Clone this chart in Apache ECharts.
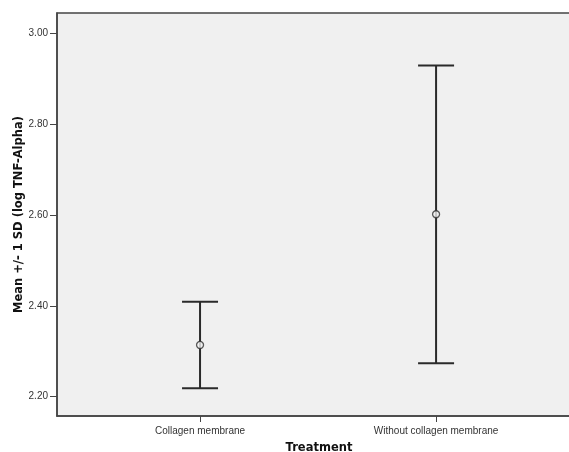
<!DOCTYPE html>
<html>
<head>
<meta charset="utf-8">
<script src="https://cdn.jsdelivr.net/npm/echarts@6/dist/echarts.min.js"></script>
<style>
	html, body { margin: 0; padding: 0; background: #fff; }
	#chart { width: 569px; height: 452px; }
</style>
</head>
<body>
<div id="chart"></div>
<script>
const categories = ["Collagen membrane", "Without collagen membrane"];
const means = [2.314, 2.602];
const lower = [2.2185, 2.2735];
const upper = [2.409, 2.930];
const yTicks = [2.2, 2.4, 2.6, 2.8, 3.0];

const chart = echarts.init(document.getElementById("chart"));

// category i sits at x = i + 1 on a value axis
const barData = categories.map((c, i) => [i + 1, lower[i], upper[i]]);
const meanData = categories.map((c, i) => [i + 1, means[i]]);

function renderBar (params, api) {
	const x = api.value(0);
	const lo = api.coord([x, api.value(1)]);
	const hi = api.coord([x, api.value(2)]);
	const half = 18;
	const style = { stroke: "#2a2a2a", lineWidth: 2 };
	return {
		type: "group",
		children: [
			{ type: "line", shape: { x1: lo[0], y1: lo[1], x2: hi[0], y2: hi[1] }, style: style },
			{ type: "line", shape: { x1: hi[0] - half, y1: hi[1], x2: hi[0] + half, y2: hi[1] }, style: style },
			{ type: "line", shape: { x1: lo[0] - half, y1: lo[1], x2: lo[0] + half, y2: lo[1] }, style: style }
		]
	};
}

option = {
	animation: false,
	grid: {
		left: 57,
		right: -12,
		top: 13,
		bottom: 36,
		outerBoundsMode: "none",
		show: true,
		backgroundColor: "#f0f0f0",
		borderColor: "#444",
		borderWidth: 1.5
	},
	xAxis: {
		type: "value",
		min: 0.394,
		max: 2.614,
		name: "Treatment",
		nameLocation: "middle",
		nameGap: 26,
		nameTextStyle: { fontFamily: "DejaVu Sans", fontWeight: "bold", fontSize: 11.5, color: "#111" },
		axisLine: { lineStyle: { color: "#444", width: 1.5 } },
		axisTick: { customValues: [1, 2], length: 6, lineStyle: { color: "#444" } },
		axisLabel: {
			customValues: [1, 2],
			formatter: v => categories[Math.round(v) - 1],
			fontFamily: "Liberation Sans",
			fontSize: 10,
			color: "#333",
			margin: 10
		},
		splitLine: { show: false }
	},
	yAxis: {
		type: "value",
		min: 2.1575,
		max: 3.0454,
		name: "Mean +/- 1 SD (log TNF-Alpha)",
		nameLocation: "middle",
		nameGap: 32,
		nameMoveOverlap: false,
		nameTextStyle: { fontFamily: "DejaVu Sans", fontWeight: "bold", fontSize: 11.5, color: "#111" },
		axisLine: { show: true, lineStyle: { color: "#444", width: 1.5 } },
		axisTick: { show: true, customValues: yTicks, length: 7, lineStyle: { color: "#444" } },
		axisLabel: {
			customValues: yTicks,
			formatter: v => v.toFixed(2),
			fontFamily: "Liberation Sans",
			fontSize: 10,
			color: "#333",
			margin: 9
		},
		splitLine: { show: false }
	},
	series: [{
		type: "custom",
		data: barData,
		renderItem: renderBar,
		encode: { x: 0, y: [1, 2] },
		z: 2
	}, {
		type: "scatter",
		data: meanData,
		symbol: "circle",
		symbolSize: 7,
		itemStyle: { color: "#f0f0f0", borderColor: "#333", borderWidth: 1.3 },
		z: 3
	}]
};

chart.setOption(option);
window.onresize = chart.resize;
</script>
</body>
</html>
